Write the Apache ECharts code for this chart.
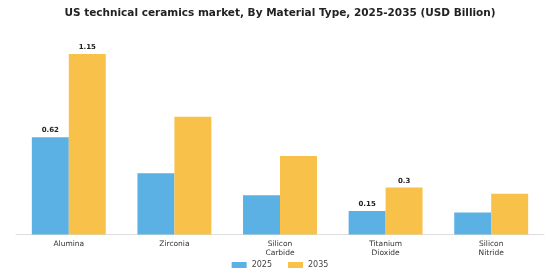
<!DOCTYPE html>
<html>
<head>
<meta charset="utf-8">
<script src="https://cdn.jsdelivr.net/npm/echarts@6/dist/echarts.min.js"></script>
<style>
  html, body { margin: 0; padding: 0; background: #fff; }
  #chart { width: 560px; height: 280px; }
</style>
</head>
<body>
<div id="chart"></div>
<script>
// data
var categories = ['Alumina', 'Zirconia', 'Silicon\nCarbide', 'Titanium\nDioxide', 'Silicon\nNitride'];
var values2025 = [0.62, 0.39, 0.25, 0.15, 0.14];
var values2035 = [1.15, 0.75, 0.50, 0.30, 0.26];
// only these categories carry a value label in the original
var labelledIdx = [0, 3];

/**
 * turn a plain value list into data items, labelled where needed
 */
function withLabels(values) {
    return values.map(function (v, i) {
        return {
            value: v,
            label: { show: labelledIdx.indexOf(i) >= 0 }
        };
    });
}

function initBar() {
    var barChart = echarts.init(document.getElementById('chart'));
    var font = 'DejaVu Sans';
    var barLabel = {
        position: 'top',
        distance: 3,
        fontFamily: font,
        fontSize: 7,
        fontWeight: 'bold',
        color: '#222'
    };
    let option = {
        animation: false,
        title: {
            text: 'US technical ceramics market, By Material Type, 2025-2035 (USD Billion)',
            left: 'center',
            top: 3,
            textStyle: {
                fontFamily: font,
                fontSize: 10.5,
                fontWeight: 'bold',
                color: '#222'
            }
        },
        legend: {
            data: ['2025', '2035'],
            bottom: 6,
            left: 'center',
            itemWidth: 15,
            itemHeight: 6,
            itemGap: 16,
            icon: 'rect',
            textStyle: {
                fontFamily: font,
                fontSize: 8,
                color: '#444'
            }
        },
        grid: {
            left: 16,
            right: 16,
            top: 54,
            bottom: 45.5
        },
        xAxis: {
            type: 'category',
            data: categories,
            axisTick: { show: false },
            axisLine: { lineStyle: { color: '#ddd', width: 1 } },
            axisLabel: {
                fontFamily: font,
                fontSize: 7.5,
                color: '#333',
                lineHeight: 9,
                margin: 5
            }
        },
        yAxis: {
            type: 'value',
            min: 0,
            max: 1.15,
            show: false,
            splitLine: { show: false }
        },
        series: [{
            name: '2025',
            type: 'bar',
            data: withLabels(values2025),
            barGap: '0%',
            barCategoryGap: '30%',
            itemStyle: { color: '#5BB1E4' },
            label: barLabel
        }, {
            name: '2035',
            type: 'bar',
            data: withLabels(values2035),
            itemStyle: { color: '#F8C14A' },
            label: barLabel
        }]
    };
    barChart.setOption(option);
}

initBar();
</script>
</body>
</html>
